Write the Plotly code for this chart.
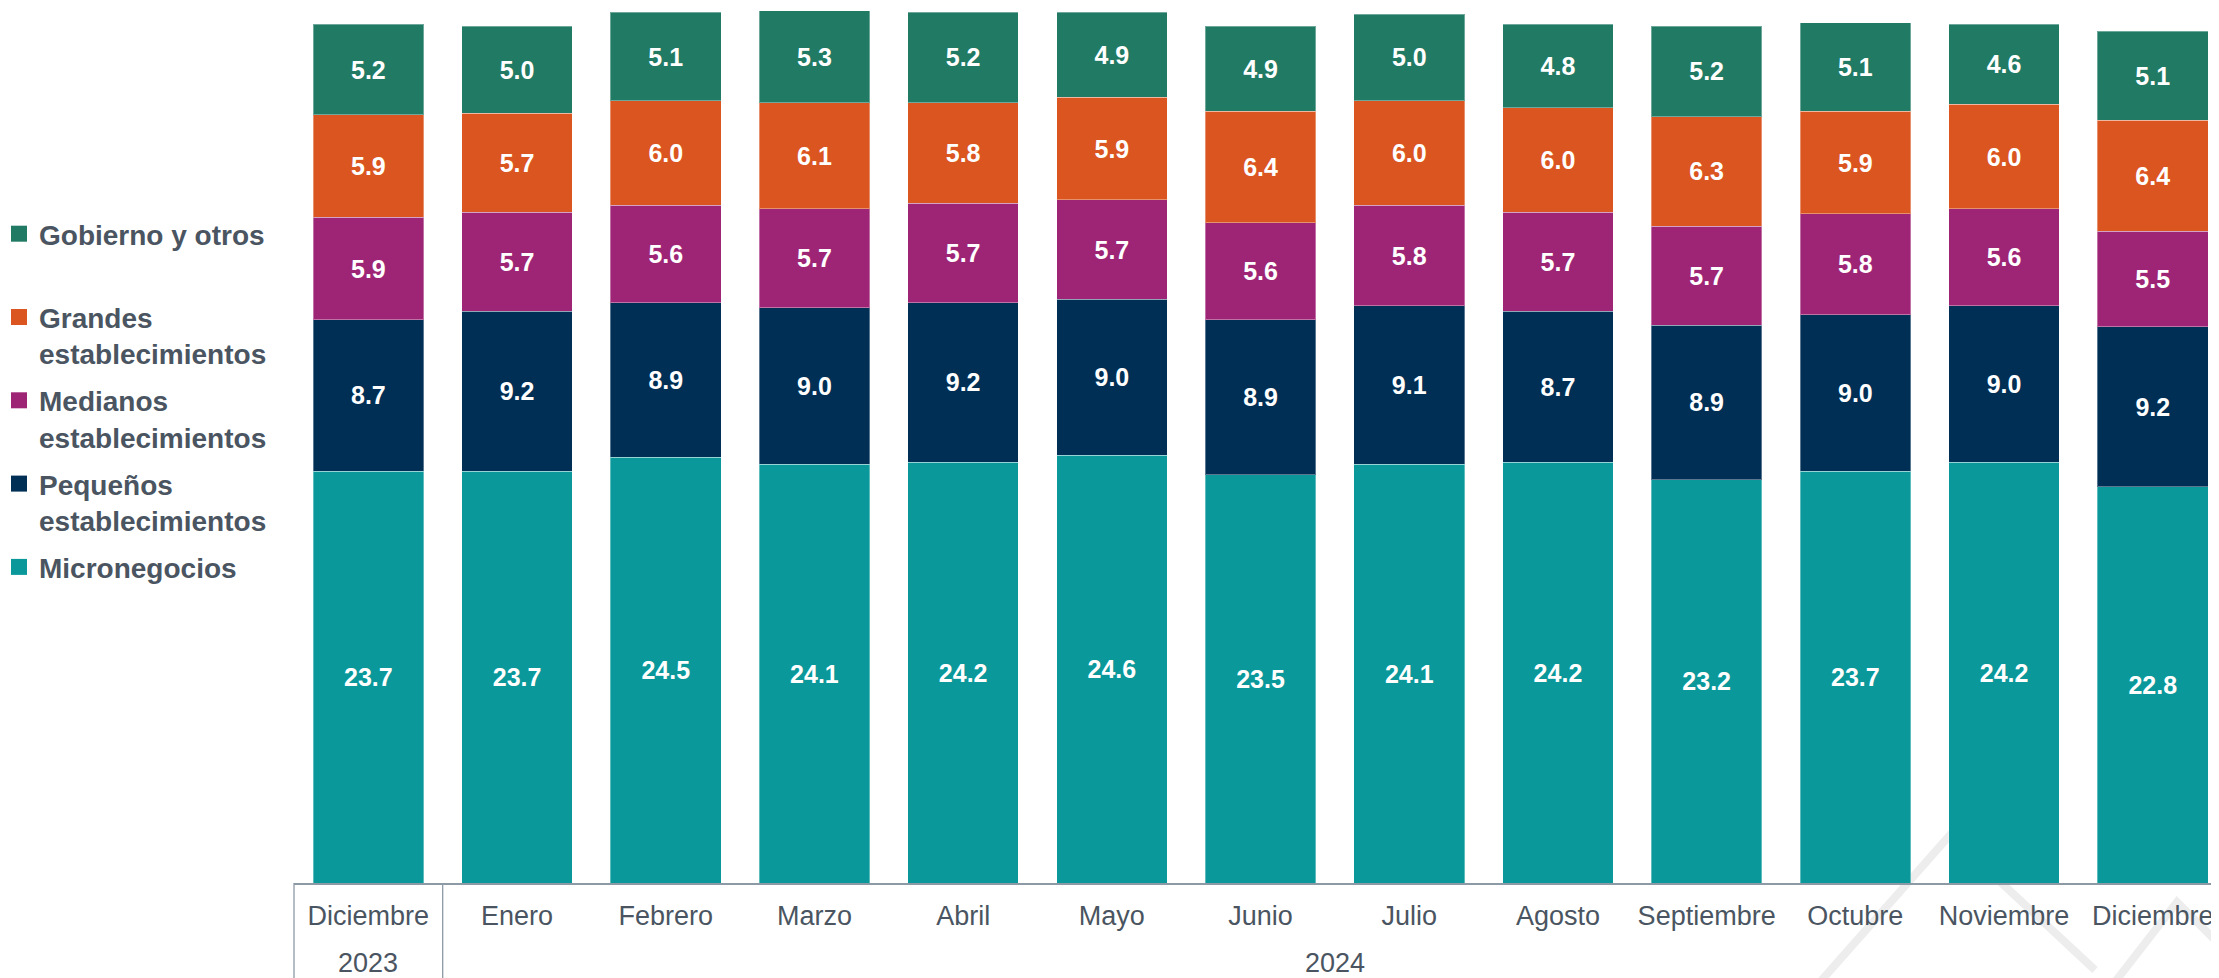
import plotly.graph_objects as go

months = ["Diciembre", "Enero", "Febrero", "Marzo", "Abril", "Mayo", "Junio",
          "Julio", "Agosto", "Septiembre", "Octubre", "Noviembre", "Diciembre"]
years = ["2023"] + ["2024"] * 12

micronegocios = [23.7, 23.7, 24.5, 24.1, 24.2, 24.6, 23.5, 24.1, 24.2, 23.2, 23.7, 24.2, 22.8]
pequenos = [8.7, 9.2, 8.9, 9.0, 9.2, 9.0, 8.9, 9.1, 8.7, 8.9, 9.0, 9.0, 9.2]
medianos = [5.9, 5.7, 5.6, 5.7, 5.7, 5.7, 5.6, 5.8, 5.7, 5.7, 5.8, 5.6, 5.5]
grandes = [5.9, 5.7, 6.0, 6.1, 5.8, 5.9, 6.4, 6.0, 6.0, 6.3, 5.9, 6.0, 6.4]
gobierno = [5.2, 5.0, 5.1, 5.3, 5.2, 4.9, 4.9, 5.0, 4.8, 5.2, 5.1, 4.6, 5.1]

# stacking order: bottom to top
series = [
    ("Micronegocios", micronegocios, "#0A989A"),
    ("Pequeños<br>establecimientos", pequenos, "#002F56"),
    ("Medianos<br>establecimientos", medianos, "#9E2576"),
    ("Grandes<br>establecimientos", grandes, "#DB5520"),
    ("Gobierno y otros<br> ", gobierno, "#217A64"),
]

OFF = 8                      # page body margin
PAGE_W, PAGE_H = 2219, 978
AXIS_Y = 883                 # page y of the category axis
PLOT_L = 294                 # page x of left plot edge
W = PAGE_W - OFF
H = PAGE_H - OFF
ML = PLOT_L - OFF
plot_w = W - ML
plot_h = AXIS_Y - OFF
MB = H - plot_h
pitch = 148.7
xmin = -0.5
xmax = xmin + plot_w / pitch
ymax = plot_h / 17.38

x = list(range(len(months)))
FONT = "Liberation Sans, Arial, sans-serif"
TXT = "#4A5561"
AXC = "#8C9AA6"

fig = go.Figure()
# legend-only entries (top of legend = top of stack)
for i, (name, vals, col) in reversed(list(enumerate(series))):
    fig.add_trace(go.Scatter(
        x=[None], y=[None], mode="markers", name=name,
        marker=dict(symbol="square", size=16, color=col),
        legendgroup=str(i), showlegend=True, hoverinfo="skip",
    ))
for i, (name, vals, col) in enumerate(series):
    fig.add_trace(go.Bar(
        x=x, y=vals, name=name, width=0.744, showlegend=False,
        marker=dict(color=col, line=dict(color="rgba(255,255,255,0.35)", width=1)),
        texttemplate="%{y:.1f}", textposition="inside", insidetextanchor="middle",
        textangle=0, constraintext="none",
        textfont=dict(family=FONT, size=25, color="white", weight="bold"),
        legendgroup=str(i),
    ))


def px_to_paper(px, py):
    return (px - PLOT_L) / plot_w, (AXIS_Y - py) / plot_h


def x_to_paper(v):
    return (v - xmin) / (xmax - xmin)


# year group labels and dividers
groups = {}
for i, yv in enumerate(years):
    groups.setdefault(yv, []).append(i)
annotations = []
shapes = []
_, year_y = px_to_paper(0, 963)
_, bottom_y = px_to_paper(0, PAGE_H + 5)
for yv, idx in groups.items():
    annotations.append(dict(
        x=x_to_paper((idx[0] + idx[-1]) / 2), y=year_y, xref="paper", yref="paper",
        xanchor="center", yanchor="middle", text=yv, showarrow=False,
        font=dict(family=FONT, size=27, color=TXT),
    ))
    b = x_to_paper(idx[0] - 0.5)
    shapes.append(dict(type="line", xref="paper", yref="paper", x0=b, x1=b,
                       y0=0, y1=bottom_y, line=dict(color=AXC, width=1.3)))


def path(points):
    s = ""
    for k, (px, py) in enumerate(points):
        a, b = px_to_paper(px, py)
        s += ("M" if k == 0 else "L") + f"{a:.5f},{b:.5f} "
    return s.strip()


for pts in [[(1820, 982), (1950, 835), (2095, 970)],
            [(2115, 982), (2177, 902), (2235, 960)]]:
    shapes.append(dict(type="path", xref="paper", yref="paper", path=path(pts),
                       layer="below", line=dict(color="#EDEDED", width=8)))

leg_x, leg_y = px_to_paper(-1, 209)

fig.update_layout(
    width=W, height=H,
    margin=dict(l=ML, r=0, t=0, b=MB, pad=0, autoexpand=False),
    barmode="stack",
    plot_bgcolor="white", paper_bgcolor="white",
    font=dict(family=FONT, color=TXT),
    xaxis=dict(
        range=[xmin, xmax], tickmode="array", tickvals=x, ticktext=months,
        tickfont=dict(family=FONT, size=27, color=TXT),
        showgrid=False, zeroline=False, showline=True, linecolor=AXC, linewidth=1.5,
        ticks="outside", ticklen=8, tickcolor="rgba(0,0,0,0)",
    ),
    yaxis=dict(range=[0, ymax], visible=False),
    legend=dict(
        x=leg_x, xanchor="left", y=leg_y, yanchor="top",
        traceorder="grouped", tracegroupgap=7.5, valign="top",
        font=dict(family=FONT, size=28, color=TXT, weight="bold"),
        bgcolor="rgba(0,0,0,0)", itemwidth=30,
    ),
    annotations=annotations,
    shapes=shapes,
    showlegend=True,
)

fig.write_html("out.html")
